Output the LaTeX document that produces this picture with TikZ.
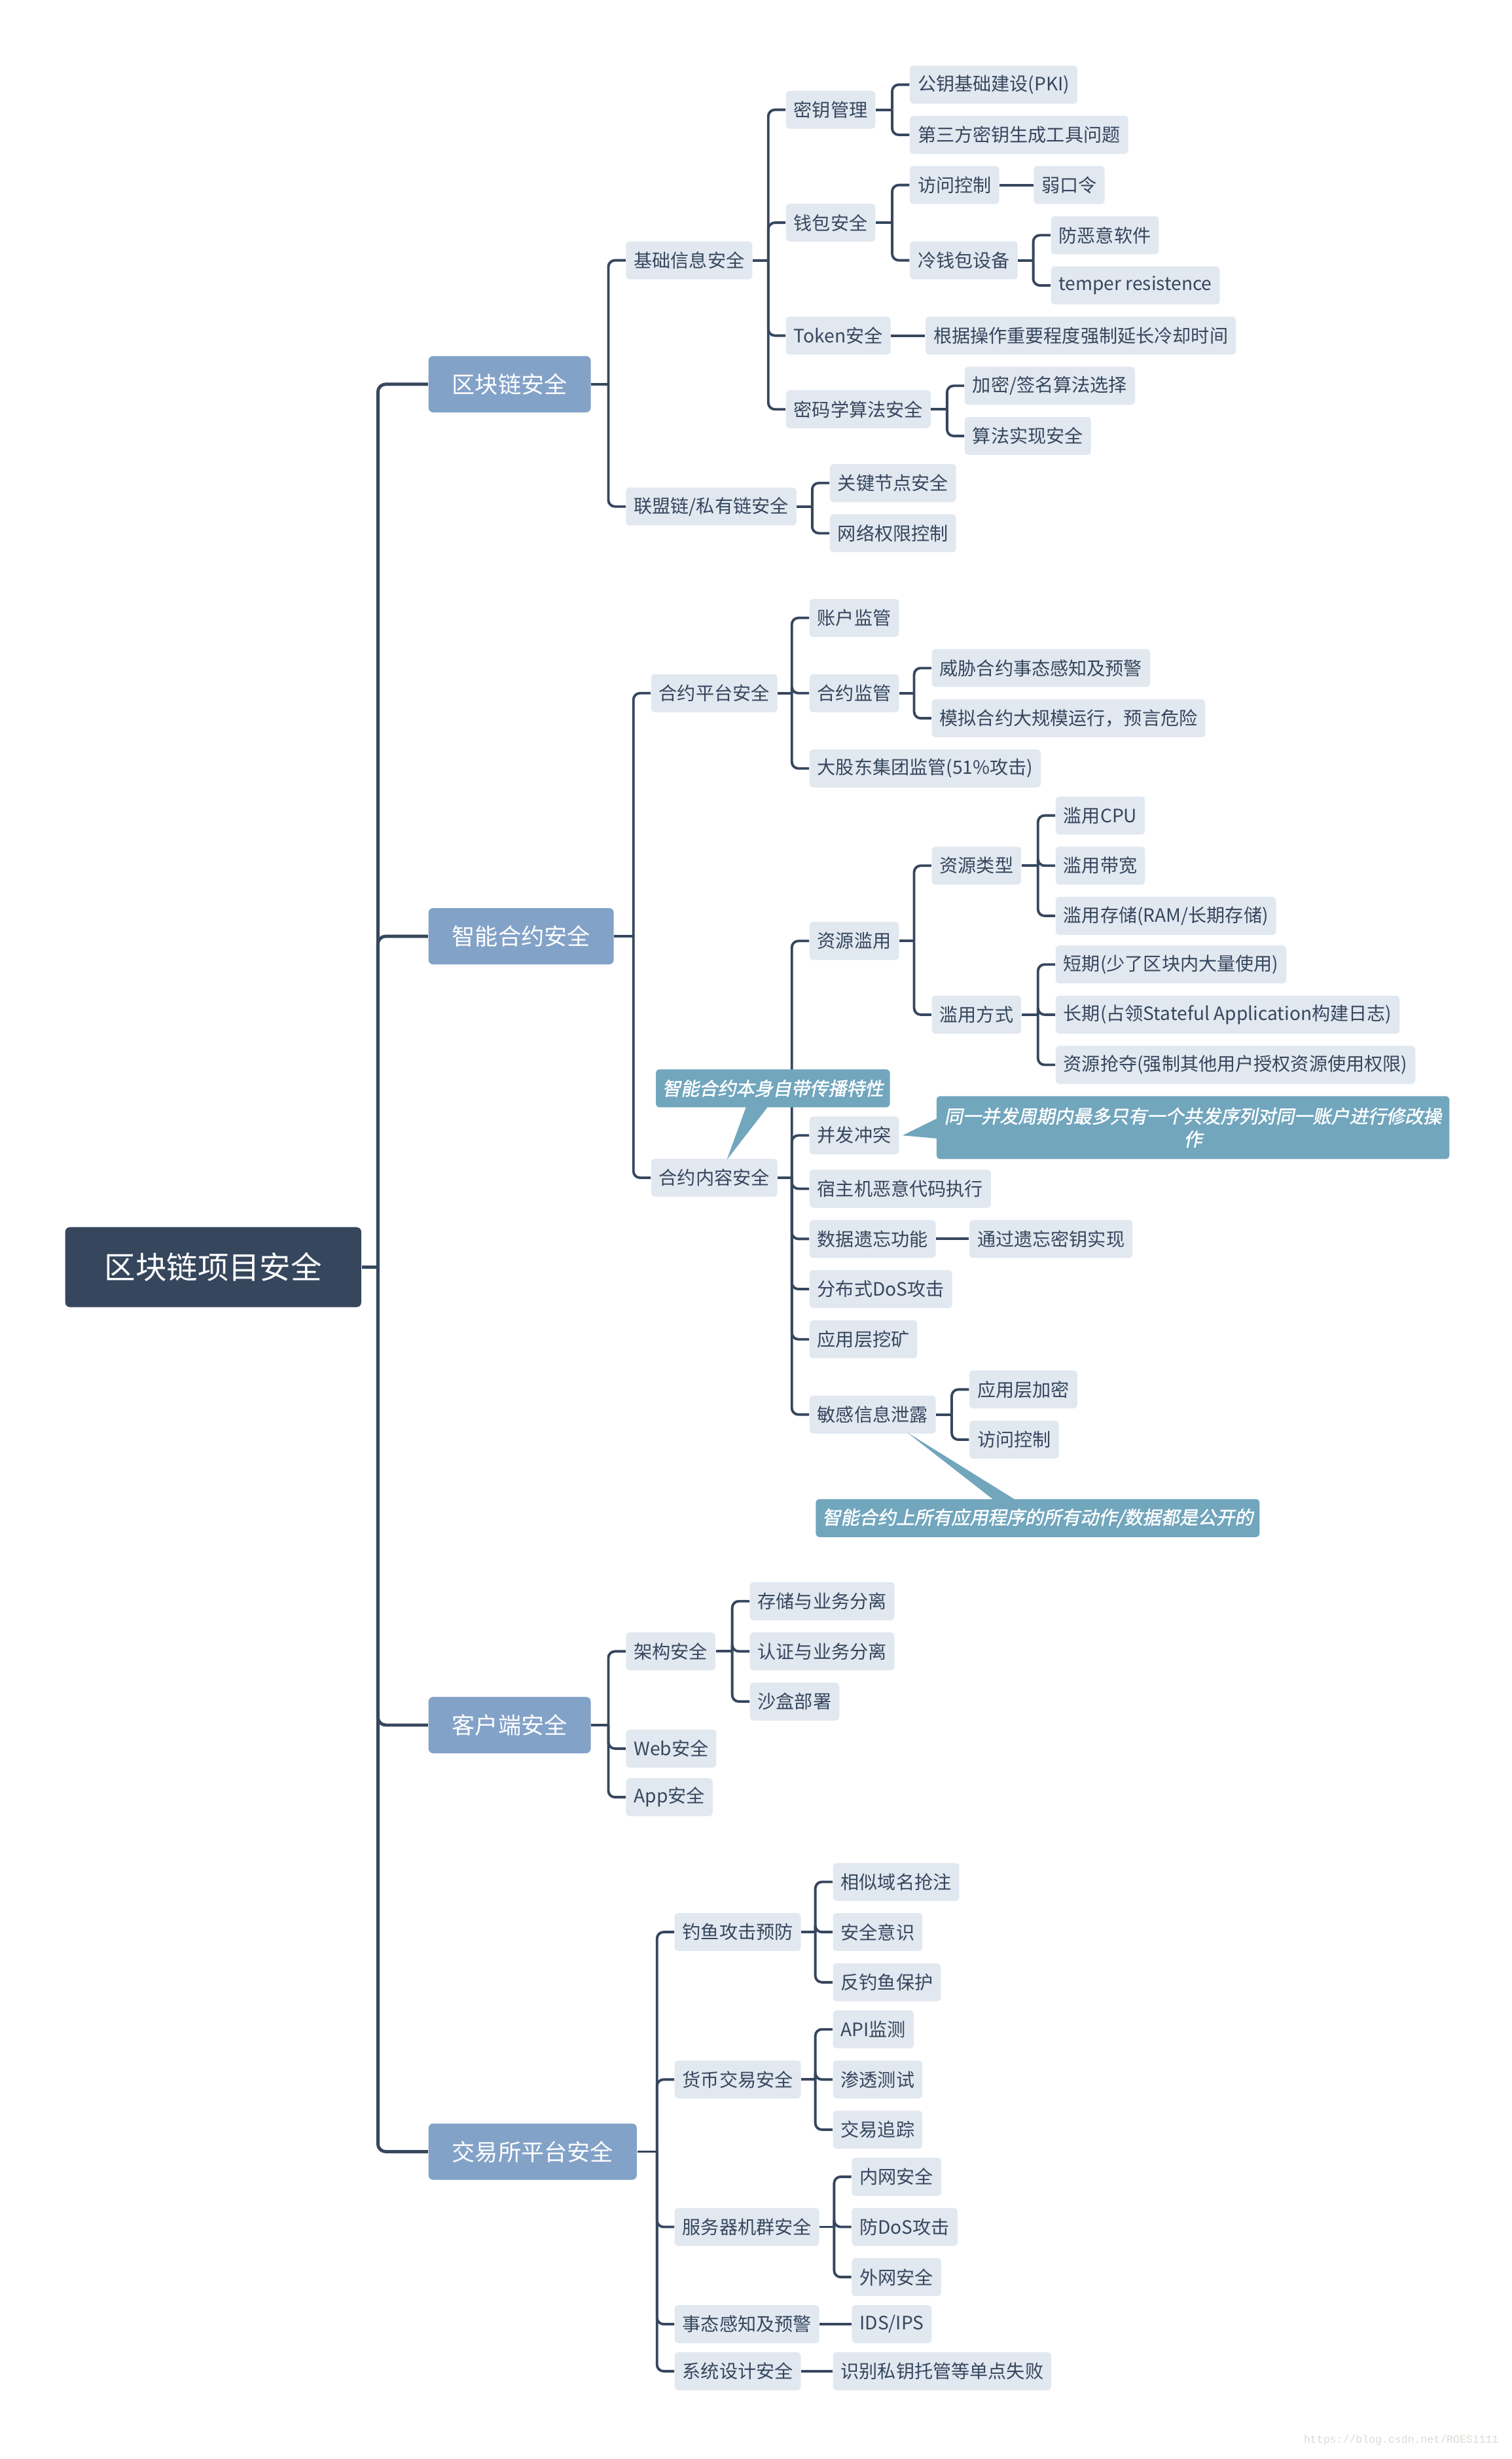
\documentclass[tikz,border=0pt]{standalone}
\usepackage{fontspec}
\setmainfont{Noto Sans CJK SC}
\newfontfamily\notefont[FakeSlant=0.2,FakeBold=1.5]{Noto Sans CJK SC}
\newfontfamily\urlfont{Liberation Mono}
\usepackage{xcolor}
\usepackage{tikz}
\usetikzlibrary{calc}
\definecolor{slate}{HTML}{36465D}
\definecolor{steel}{HTML}{83A2C8}
\definecolor{mist}{HTML}{E1E8F0}
\definecolor{sea}{HTML}{71A6BD}
\definecolor{faint}{HTML}{DAD9D2}
% parent -> bar -> children
\newcommand{\fork}[3][11]{%
  \foreach \c [count=\i] in {#3}{%
    \ifnum\i=1
      \coordinate (#2-j) at ($(#2.east -| \c.west)+(-#1,0)$);
      \draw[ln] (#2.east) -- (#2-j);
    \fi
    \draw[ln,rounded corners=0.1cm] (#2-j) |- (\c.west);}}

\begin{document}
\begin{tikzpicture}[x=0.02394cm,y=-0.02394cm,
  every node/.style={font=\fontsize{8}{10}\selectfont,text=slate},
  root/.style={fill=slate,text=white,rounded corners=2pt,minimum width=4.52cm,
    minimum height=1.22cm,font=\fontsize{13.5}{16}\selectfont},
  cat/.style={fill=steel,text=white,rounded corners=2pt,anchor=west,inner xsep=0.36cm,
    inner ysep=0pt,minimum height=0.86cm,font=\fontsize{10}{12}\selectfont},
  lf/.style={fill=mist,rounded corners=1.5pt,anchor=west,inner xsep=0.12cm,
    inner ysep=0pt,minimum height=0.58cm},
  note/.style={fill=sea,text=white,rounded corners=1.5pt,anchor=west,inner xsep=0.1cm,
    inner ysep=0pt,minimum height=0.58cm,align=center,font=\notefont\fontsize{8}{10}\selectfont},
  ln/.style={draw=slate,line width=1.1pt},
  tr/.style={draw=slate,line width=1.4pt}]
  \useasboundingbox (0,0) rectangle (964,1568);

  \node[root] (root) at (136,808) {区块链项目安全};
  \node[cat] (bc) at (273,245) {区块链安全};
  \node[cat] (sc) at (273,597) {智能合约安全};
  \node[cat] (cl) at (273,1100) {客户端安全};
  \node[cat] (ex) at (273,1372) {交易所平台安全};

  % 区块链安全
  \node[lf] (bi) at (399,166) {基础信息安全};
  \node[lf] (al) at (399,323) {联盟链/私有链安全};
  \node[lf] (km) at (501,70) {密钥管理};
  \node[lf] (wl) at (501,142) {钱包安全};
  \node[lf] (tk) at (501,214) {Token安全};
  \node[lf] (cr) at (501,261) {密码学算法安全};
  \node[lf] (pki) at (580,54) {公钥基础建设(PKI)};
  \node[lf] (tool) at (580,86) {第三方密钥生成工具问题};
  \node[lf] (wac) at (580,118) {访问控制};
  \node[lf] (cold) at (580,166) {冷钱包设备};
  \node[lf] (weak) at (659,118) {弱口令};
  \node[lf] (mal) at (670,150) {防恶意软件};
  \node[lf] (tamp) at (670,182) {temper resistence};
  \node[lf] (cool) at (590,214) {根据操作重要程度强制延长冷却时间};
  \node[lf] (alg) at (615,246) {加密/签名算法选择};
  \node[lf] (impl) at (615,278) {算法实现安全};
  \node[lf] (kn) at (529,308) {关键节点安全};
  \node[lf] (net) at (529,340) {网络权限控制};

  % 智能合约安全
  \node[lf] (cp) at (415,442) {合约平台安全};
  \node[lf] (cs) at (415,751) {合约内容安全};
  \node[lf] (acc) at (516,394) {账户监管};
  \node[lf] (sup) at (516,442) {合约监管};
  \node[lf] (maj) at (516,490) {大股东集团监管(51\%攻击)};
  \node[lf] (thr) at (594,426) {威胁合约事态感知及预警};
  \node[lf] (sim) at (594,458) {模拟合约大规模运行，预言危险};
  \node[lf] (ra) at (516,600) {资源滥用};
  \node[lf] (cc) at (516,724) {并发冲突};
  \node[lf] (host) at (516,758) {宿主机恶意代码执行};
  \node[lf] (fg) at (516,790) {数据遗忘功能};
  \node[lf] (ddos) at (516,822) {分布式DoS攻击};
  \node[lf] (mine) at (516,854) {应用层挖矿};
  \node[lf] (sl) at (516,902) {敏感信息泄露};
  \node[lf] (rt) at (594,552) {资源类型};
  \node[lf] (rw) at (594,647) {滥用方式};
  \node[lf] (cpu) at (673,520) {滥用CPU};
  \node[lf] (bw) at (673,552) {滥用带宽};
  \node[lf] (sto) at (673,584) {滥用存储(RAM/长期存储)};
  \node[lf] (st) at (673,615) {短期(少了区块内大量使用)};
  \node[lf] (lt) at (673,647) {长期(占领Stateful Application构建日志)};
  \node[lf] (grab) at (673,679) {资源抢夺(强制其他用户授权资源使用权限)};
  \node[lf] (fgk) at (618,790) {通过遗忘密钥实现};
  \node[lf] (enc) at (618,886) {应用层加密};
  \node[lf] (sac) at (618,918) {访问控制};

  % 客户端安全
  \node[lf] (arch) at (399,1053) {架构安全};
  \node[lf] (web) at (399,1115) {Web安全};
  \node[lf] (app) at (399,1146) {App安全};
  \node[lf] (s1) at (478,1021) {存储与业务分离};
  \node[lf] (s2) at (478,1053) {认证与业务分离};
  \node[lf] (s3) at (478,1085) {沙盒部署};

  % 交易所平台安全
  \node[lf] (ph) at (430,1232) {钓鱼攻击预防};
  \node[lf] (cur) at (430,1326) {货币交易安全};
  \node[lf] (srv) at (430,1420) {服务器机群安全};
  \node[lf] (sa) at (430,1482) {事态感知及预警};
  \node[lf] (sd) at (430,1512) {系统设计安全};
  \node[lf] (p1) at (531,1200) {相似域名抢注};
  \node[lf] (p2) at (531,1232) {安全意识};
  \node[lf] (p3) at (531,1264) {反钓鱼保护};
  \node[lf] (c1) at (531,1294) {API监测};
  \node[lf] (c2) at (531,1326) {渗透测试};
  \node[lf] (c3) at (531,1358) {交易追踪};
  \node[lf] (v1) at (543,1388) {内网安全};
  \node[lf] (v2) at (543,1420) {防DoS攻击};
  \node[lf] (v3) at (543,1452) {外网安全};
  \node[lf] (ids) at (543,1482) {IDS/IPS};
  \node[lf] (sp) at (531,1512) {识别私钥托管等单点失败};

  % trunk
  \coordinate (root-j) at ($(root.east -| bc.west)+(-32,0)$);
  \draw[tr] (root.east) -- (root-j);
  \foreach \c in {bc,sc,cl,ex}
    \draw[tr,rounded corners=0.12cm] (root-j) |- (\c.west);

  \fork{bc}{bi,al}
  \fork{bi}{km,wl,tk,cr}
  \fork{km}{pki,tool}
  \fork{wl}{wac,cold}
  \fork{cold}{mal,tamp}
  \fork{cr}{alg,impl}
  \fork{al}{kn,net}
  \draw[ln] (wac.east) -- (weak.west);
  \draw[ln] (tk.east) -- (cool.west);

  \fork{sc}{cp,cs}
  \fork{cp}{acc,sup,maj}
  \fork{sup}{thr,sim}
  \fork{cs}{ra,cc,host,fg,ddos,mine,sl}
  \fork{ra}{rt,rw}
  \fork{rt}{cpu,bw,sto}
  \fork{rw}{st,lt,grab}
  \fork{sl}{enc,sac}
  \draw[ln] (fg.east) -- (fgk.west);

  \fork{cl}{arch,web,app}
  \fork{arch}{s1,s2,s3}

  \fork{ex}{ph,cur,srv,sa,sd}
  \fork{ph}{p1,p2,p3}
  \fork{cur}{c1,c2,c3}
  \fork{srv}{v1,v2,v3}
  \draw[ln] (sa.east) -- (ids.west);
  \draw[ln] (sd.east) -- (sp.west);

  % callouts
  \node[note] (n1) at (418,694) {智能合约本身自带传播特性};
  \fill[sea] ($(n1.south west)+(58,-1)$) -- ($(cs.north)+(8,1)$) -- ($(n1.south west)+(72,-1)$) -- cycle;
  \node[note,minimum height=0.96cm,inner xsep=0.12cm] (n2) at (597,719)
    {同一并发周期内最多只有一个共发序列对同一账户进行修改操\\作};
  \fill[sea] ($(n2.west)+(1,-6)$) -- ($(cc.east)+(2,0)$) -- ($(n2.west)+(1,7)$) -- cycle;
  \node[note] (n3) at (520,968) {智能合约上所有应用程序的所有动作/数据都是公开的};
  \fill[sea] ($(n3.north west)+(114,1)$) -- ($(sl.south)+(22,-1)$) -- ($(n3.north west)+(128,1)$) -- cycle;

  \node[anchor=east,text=faint,font=\urlfont\fontsize{4.7}{6}\selectfont] (wm) at (961,1556)
    {https://blog.csdn.net/ROES1111};
\end{tikzpicture}
\end{document}
